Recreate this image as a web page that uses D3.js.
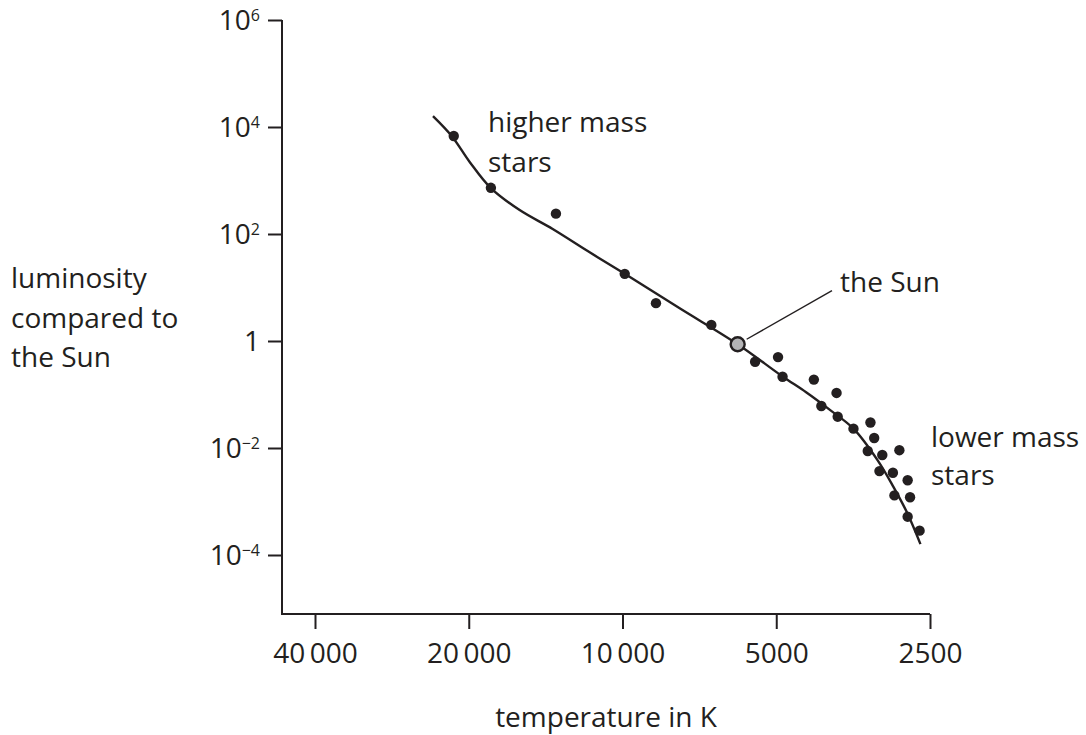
<!DOCTYPE html>
<html>
<head>
<meta charset="utf-8">
<script src="https://cdn.jsdelivr.net/npm/d3@7"></script>
<style>
  body { margin: 0; background: #fff; }
  text { font-family: "Open Sans", "Noto Sans", sans-serif; fill: #231f20; }
</style>
</head>
<body>
<svg id="chart" width="1086" height="735"></svg>
<script>
// star temperatures (K) and luminosities (Sun = 1)
const starTemps = [21400, 18100, 13500, 9900, 8600, 6700, 5500, 4960, 4860, 4220,
                   3810, 4080, 3790, 3530, 3270, 3215, 3310, 3100, 2870, 3140,
                   2955, 2765, 2935, 2735, 2765, 2620]
const starLums = [6800, 730, 240, 18, 5.1, 2.0, 0.41, 0.50, 0.215, 0.19,
                  0.107, 0.061, 0.0385, 0.023, 0.030, 0.0154, 0.0088, 0.0074, 0.0091, 0.0037,
                  0.00345, 0.0025, 0.0013, 0.0012, 0.00052, 0.000285]

// main sequence line
const curveTemps = [23500, 21600, 19900, 18100, 15900, 13700, 11700, 9900, 7700, 5960,
                    4870, 4370, 3920, 3530, 3170, 2950, 2770, 2610]
const curveLums = [16000, 6800, 2200, 720, 280, 124, 48, 18, 4, 0.88,
                   0.22, 0.11, 0.051, 0.023, 0.006, 0.0019, 0.00061, 0.00016]

const sunTemp = 5950
const sunLum = 0.87

const xTicks = [40000, 20000, 10000, 5000, 2500]
const xTickLabels = ["40\u2009000", "20\u2009000", "10\u2009000", "5000", "2500"]
const yTicks = [1e6, 1e4, 1e2, 1, 1e-2, 1e-4]
const yTickExps = ["6", "4", "2", "", "\u22122", "\u22124"]

const ink = "#231f20"

const svg = d3.select("#chart")

const x = d3.scaleLog().domain([40000, 2500]).range([315, 930])
const y = d3.scaleLog().domain([1e6, 1e-4]).range([20, 555])

const axisX0 = 282, axisY0 = 614

// axis lines
svg.append("path")
    .attr("d", `M${axisX0},${y(1e6)}V${axisY0}H${x(2500)}`)
    .attr("fill", "none").attr("stroke", ink).attr("stroke-width", 2)

// y ticks
const yAxis = svg.append("g")
    .attr("transform", `translate(${axisX0},0)`)
    .call(d3.axisLeft(y).tickValues(yTicks).tickSize(14).tickFormat(""))
yAxis.select(".domain").remove()
yAxis.selectAll("line").attr("stroke", ink).attr("stroke-width", 2)

const yLab = svg.append("g").selectAll("text").data(yTicks).enter().append("text")
    .attr("x", 260)
    .attr("y", d => y(d) + 10)
    .attr("text-anchor", "end")
    .attr("font-size", 28)
yLab.append("tspan").text(d => d === 1 ? "1" : "10")
yLab.filter(d => yTickExps[yTicks.indexOf(d)] !== "").append("tspan")
    .attr("dy", -9).attr("font-size", 16)
    .text(d => yTickExps[yTicks.indexOf(d)])

// x ticks
const xAxis = svg.append("g")
    .attr("transform", `translate(0,${axisY0})`)
    .call(d3.axisBottom(x).tickValues(xTicks).tickSize(15).tickFormat((d, i) => xTickLabels[i]))
xAxis.select(".domain").remove()
xAxis.selectAll("line").attr("stroke", ink).attr("stroke-width", 2)
xAxis.selectAll("text")
    .attr("y", 49).attr("dy", null)
    .attr("font-size", 28)
    .attr("font-family", "'Open Sans', sans-serif")
    .attr("fill", ink)

// axis titles
svg.append("text")
    .attr("x", (axisX0 + x(2500)) / 2).attr("y", 727)
    .attr("text-anchor", "middle").attr("font-size", 28)
    .text("temperature in K")

const yTitle = ["luminosity", "compared to", "the Sun"]
svg.append("g").selectAll("text").data(yTitle).enter().append("text")
    .attr("x", 11).attr("y", (d, i) => 288 + i * 39.5)
    .attr("font-size", 28)
    .text(d => d)

// main sequence curve
const curvePts = curveTemps.map((t, i) => [t, curveLums[i]])
const line = d3.line()
    .x(d => x(d[0]))
    .y(d => y(d[1]))
    .curve(d3.curveCatmullRom.alpha(0.5))
svg.append("path")
    .datum(curvePts)
    .attr("d", line)
    .attr("fill", "none").attr("stroke", ink).attr("stroke-width", 2.4)

// stars
const stars = starTemps.map((t, i) => ({t: t, l: starLums[i]}))
svg.append("g").selectAll("circle").data(stars).enter().append("circle")
    .attr("cx", d => x(d.t))
    .attr("cy", d => y(d.l))
    .attr("r", 5.2)
    .attr("fill", ink)

// the Sun
const sx = x(sunTemp), sy = y(sunLum)
svg.append("line")
    .attr("x1", sx + 9).attr("y1", sy - 5)
    .attr("x2", 832).attr("y2", 290.7)
    .attr("stroke", ink).attr("stroke-width", 1.4)
svg.append("circle")
    .attr("cx", sx).attr("cy", sy).attr("r", 7)
    .attr("fill", "#b4b4b6").attr("stroke", ink).attr("stroke-width", 2.4)
svg.append("text")
    .attr("x", 840).attr("y", 292)
    .attr("font-size", 28)
    .text("the Sun")

// group labels
const annotate = (lines, ax, ay, gap) => {
    svg.append("g").selectAll("text").data(lines).enter().append("text")
        .attr("x", ax).attr("y", (d, i) => ay + i * gap)
        .attr("font-size", 28)
        .text(d => d)
}
annotate(["higher mass", "stars"], 488, 132, 39.5)
annotate(["lower mass", "stars"], 931, 447, 37.5)
</script>
</body>
</html>
